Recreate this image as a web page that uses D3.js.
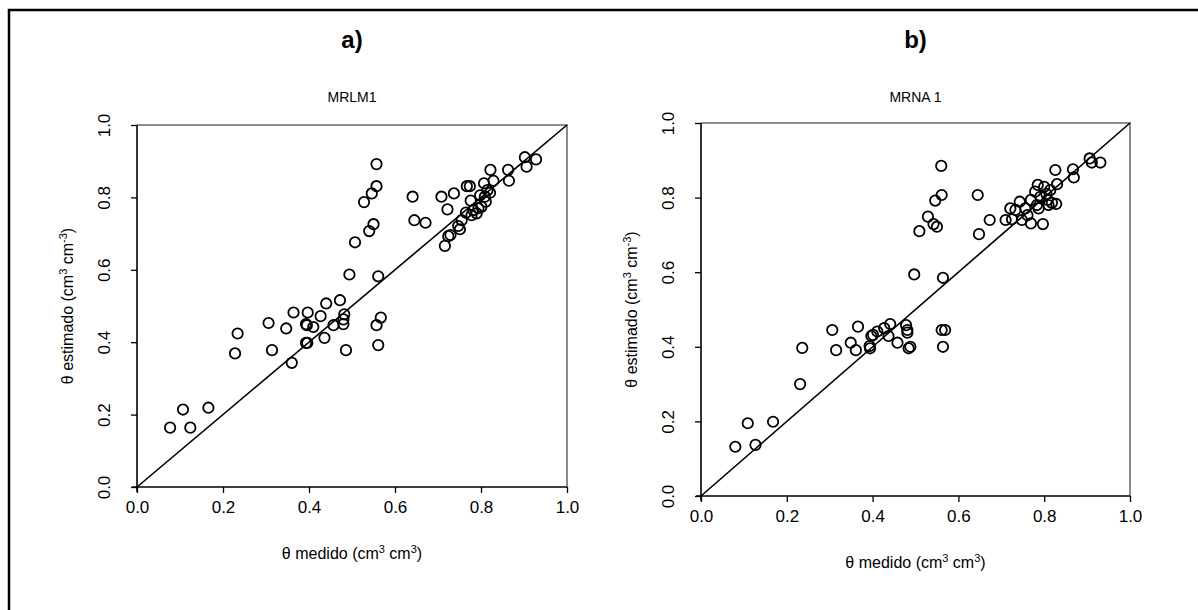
<!DOCTYPE html>
<html>
<head>
<meta charset="utf-8">
<script src="https://cdn.jsdelivr.net/npm/d3@7"></script>
<style>
  body { margin: 0; background: #fff; }
  text { font-family: "Liberation Sans", Arial, sans-serif; fill: #000; }
</style>
</head>
<body>
<div id="chart"></div>
<script>
var width = 1198, height = 610;

// a) MRLM1 - medido vs estimado
var medidoA = [0.077, 0.107, 0.124, 0.166, 0.228, 0.234, 0.306, 0.314, 0.347, 0.360,
  0.364, 0.393, 0.393, 0.397, 0.395, 0.410, 0.396, 0.427, 0.436, 0.440,
  0.457, 0.472, 0.482, 0.480, 0.480, 0.486, 0.494, 0.507, 0.528, 0.540,
  0.546, 0.550, 0.557, 0.557, 0.557, 0.561, 0.561, 0.567, 0.641, 0.645,
  0.671, 0.708, 0.716, 0.722, 0.724, 0.729, 0.737, 0.747, 0.751, 0.767,
  0.774, 0.765, 0.776, 0.778, 0.782, 0.794, 0.798, 0.801, 0.807, 0.809,
  0.811, 0.815, 0.821, 0.822, 0.829, 0.863, 0.865, 0.902, 0.906, 0.928,
  0.755, 0.790];
var estimadoA = [0.164, 0.214, 0.164, 0.219, 0.369, 0.424, 0.453, 0.378, 0.438, 0.343,
  0.482, 0.450, 0.398, 0.482, 0.447, 0.442, 0.398, 0.472, 0.412, 0.507,
  0.447, 0.516, 0.477, 0.463, 0.450, 0.378, 0.587, 0.676, 0.787, 0.707,
  0.811, 0.726, 0.892, 0.831, 0.447, 0.582, 0.392, 0.468, 0.802, 0.737,
  0.730, 0.802, 0.666, 0.767, 0.693, 0.696, 0.811, 0.721, 0.712, 0.831,
  0.831, 0.758, 0.791, 0.751, 0.765, 0.770, 0.806, 0.774, 0.839, 0.802,
  0.788, 0.820, 0.813, 0.876, 0.846, 0.876, 0.846, 0.911, 0.885, 0.905,
  0.737, 0.756];

// b) MRNA 1
var medidoB = [0.080, 0.109, 0.127, 0.168, 0.231, 0.236, 0.306, 0.315, 0.349, 0.361,
  0.366, 0.393, 0.394, 0.397, 0.401, 0.411, 0.427, 0.437, 0.441, 0.458,
  0.478, 0.481, 0.481, 0.484, 0.488, 0.497, 0.509, 0.529, 0.542, 0.550,
  0.546, 0.560, 0.561, 0.561, 0.569, 0.564, 0.564, 0.645, 0.648, 0.673,
  0.710, 0.721, 0.725, 0.733, 0.743, 0.748, 0.756, 0.761, 0.769, 0.769,
  0.779, 0.785, 0.783, 0.787, 0.797, 0.800, 0.805, 0.808, 0.810, 0.814,
  0.818, 0.828, 0.830, 0.826, 0.867, 0.869, 0.906, 0.911, 0.931, 0.791];
var estimadoB = [0.132, 0.195, 0.137, 0.199, 0.300, 0.397, 0.445, 0.391, 0.411, 0.391,
  0.454, 0.402, 0.396, 0.429, 0.432, 0.441, 0.450, 0.429, 0.461, 0.411,
  0.458, 0.445, 0.438, 0.396, 0.400, 0.594, 0.710, 0.749, 0.729, 0.722,
  0.792, 0.885, 0.807, 0.445, 0.445, 0.585, 0.400, 0.807, 0.702, 0.740,
  0.740, 0.771, 0.742, 0.767, 0.789, 0.740, 0.771, 0.753, 0.731, 0.794,
  0.816, 0.834, 0.780, 0.771, 0.729, 0.829, 0.810, 0.794, 0.780, 0.820,
  0.786, 0.783, 0.836, 0.874, 0.876, 0.854, 0.905, 0.894, 0.894, 0.802];

var ticks = [0, 0.2, 0.4, 0.6, 0.8, 1.0];

var svg = d3.select('#chart')
    .append('svg')
    .attr('width', width)
    .attr('height', height);

// marco exterior
svg.append('path')
    .attr('d', 'M9,' + height + ' V10 H' + width)
    .attr('fill', 'none')
    .attr('stroke', '#000')
    .attr('stroke-width', 2.5);

function ejeTexto(sel, base, sup1, sup2) {
    sel.append('tspan').text(base);
    sel.append('tspan').attr('font-size', '11px').attr('dy', '-6').text(sup1);
    sel.append('tspan').attr('dy', '6').text(' cm');
    sel.append('tspan').attr('font-size', '11px').attr('dy', '-6').text(sup2);
    sel.append('tspan').attr('dy', '6').text(')');
}

function panel(p) {
    var x = d3.scaleLinear().domain([0, 1]).range([p.left, p.right]);
    var y = d3.scaleLinear().domain([0, 1]).range([p.bottom, p.top]);
    var cx = (p.left + p.right) / 2;

    svg.append('text')
        .attr('x', cx).attr('y', 48)
        .attr('text-anchor', 'middle')
        .attr('font-size', '24px')
        .attr('font-weight', 'bold')
        .text(p.letra);

    svg.append('text')
        .attr('x', cx).attr('y', 102)
        .attr('text-anchor', 'middle')
        .attr('font-size', '14px')
        .text(p.nombre);

    // borde gris arriba y derecha
    svg.append('path')
        .attr('d', 'M' + p.left + ',' + p.top + ' H' + p.right + ' V' + p.bottom)
        .attr('fill', 'none')
        .attr('stroke', '#8c8c8c')
        .attr('stroke-width', 2);

    // linea 1:1
    svg.append('line')
        .attr('x1', x(0)).attr('y1', y(0))
        .attr('x2', x(1)).attr('y2', y(1))
        .attr('stroke', '#000')
        .attr('stroke-width', 1.6);

    svg.append('g')
        .selectAll('circle')
        .data(p.xs)
        .enter().append('circle')
        .attr('cx', function(d){ return x(d) })
        .attr('cy', function(d, i){ return y(p.ys[i]) })
        .attr('r', 5.2)
        .attr('fill', 'none')
        .attr('stroke', '#000')
        .attr('stroke-width', 1.8);

    var gx = svg.append('g')
        .attr('transform', 'translate(0,' + p.bottom + ')')
        .call(d3.axisBottom(x).tickValues(ticks).tickFormat(d3.format('.1f')).tickSize(6).tickSizeOuter(0));
    gx.select('.domain').attr('stroke', '#000').attr('stroke-width', 1.6)
        .attr('d', 'M' + (p.left - 5) + ',0 H' + p.right);
    gx.selectAll('.tick line').attr('stroke', '#000').attr('stroke-width', 1.3);
    gx.selectAll('.tick text')
        .attr('font-size', '17px')
        .attr('font-family', '"Liberation Sans", Arial, sans-serif')
        .attr('y', 14);

    var gy = svg.append('g')
        .attr('transform', 'translate(' + p.left + ',0)')
        .call(d3.axisLeft(y).tickValues(ticks).tickFormat(d3.format('.1f')).tickSize(6).tickSizeOuter(0));
    gy.select('.domain').attr('stroke', '#000').attr('stroke-width', 1.6)
        .attr('d', 'M0,' + (p.bottom + 5) + ' V' + p.top);
    gy.selectAll('.tick line').attr('stroke', '#000').attr('stroke-width', 1.3);
    gy.selectAll('.tick text')
        .attr('font-size', '17px')
        .attr('font-family', '"Liberation Sans", Arial, sans-serif')
        .attr('text-anchor', 'middle')
        .attr('x', 0)
        .attr('dy', '0.35em')
        .attr('transform', 'translate(-33,0) rotate(-90)');

    var tx = svg.append('text')
        .attr('x', cx).attr('y', p.bottom + 72)
        .attr('text-anchor', 'middle')
        .attr('font-size', '16px');
    ejeTexto(tx, '\u03B8 medido (cm', '3', '3');

    var ty = svg.append('text')
        .attr('transform', 'translate(' + (p.left - 64) + ',' + ((p.top + p.bottom) / 2) + ') rotate(-90)')
        .attr('text-anchor', 'middle')
        .attr('font-size', '16px');
    ejeTexto(ty, '\u03B8 estimado (cm', '3', '-3');
}

panel({letra: 'a)', nombre: 'MRLM1', left: 137, right: 567, top: 125, bottom: 487, xs: medidoA, ys: estimadoA});
panel({letra: 'b)', nombre: 'MRNA 1', left: 701, right: 1130, top: 123, bottom: 496, xs: medidoB, ys: estimadoB});
</script>
</body>
</html>
